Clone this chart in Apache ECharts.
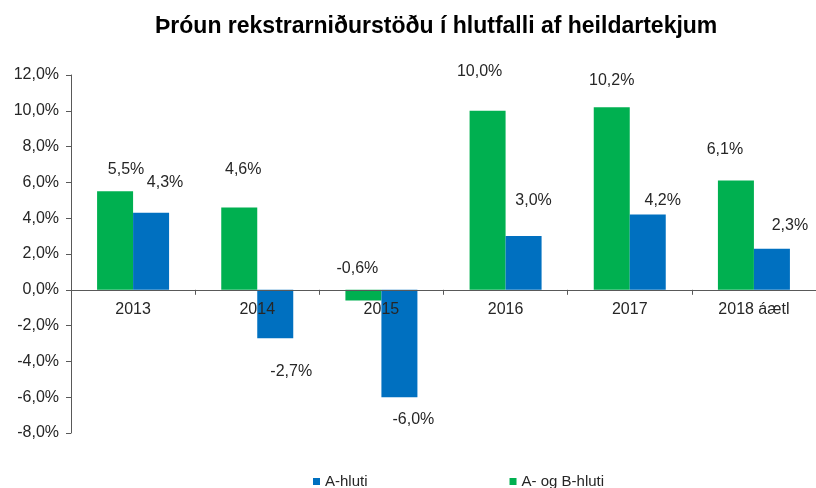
<!DOCTYPE html>
<html>
<head>
<meta charset="utf-8">
<script src="https://cdn.jsdelivr.net/npm/echarts@6/dist/echarts.min.js"></script>
<style>
  html, body { margin: 0; padding: 0; background: #fff; }
  #main { width: 816px; height: 488px; }
</style>
</head>
<body>
<div id="main"></div>
<script>
var years = ['2013', '2014', '2015', '2016', '2017', '2018 áætl'];
var abHluti = [5.5, 4.6, -0.6, 10.0, 10.2, 6.1];   // A- og B-hluti
var aHluti = [4.3, -2.7, -6.0, 3.0, 4.2, 2.3];     // A-hluti
var yMin = -8, yMax = 12;

// label nudges, hand placed like in the original
var abNudge = [[11, -14], [4, -30], [-6, -40], [-8, -31], [0, -19], [-11, -23]];
var aNudge = [[14, -22], [16, 25], [14, 14], [10, -28], [15, -6], [18, -15]];

function pct(v){
    return v.toFixed(1).replace('.', ',') + '%';
}

function withLabels(values, nudges){
    return values.map(function(v, i){
        return { value: v, label: { offset: nudges[i] } };
    });
}

var font = 'Liberation Sans, Arial, sans-serif';
var textColor = '#262626';
var axisColor = '#595959';

var gridTop = 75, gridBottom = 55, chartH = 488;
// the category axis sits on the zero line, labels and ticks with it
var plotH = chartH - gridTop - gridBottom;
var zeroShift = plotH * (0 - yMin) / (yMax - yMin);

var chartDom = document.getElementById('main');
var myChart = echarts.init(chartDom);
var option;

option = {
    animation: false,
    title: {
        text: 'Þróun rekstrarniðurstöðu í hlutfalli af heildartekjum',
        left: 150,
        top: 10,
        textStyle: {
            fontFamily: font,
            fontWeight: 'bold',
            fontSize: 23,
            color: '#000'
        }
    },
    legend: {
        data: ['A-hluti', 'A- og B-hluti'],
        left: 308,
        top: 469,
        itemWidth: 7,
        itemHeight: 7,
        itemGap: 142,
        icon: 'rect',
        textStyle: { fontFamily: font, fontSize: 15, color: textColor }
    },
    grid: {
        left: 71,
        right: -7,
        top: gridTop,
        bottom: gridBottom
    },
    xAxis: {
        type: 'category',
        data: years,
        offset: -zeroShift,
        z: 5,
        axisLine: { onZero: false, lineStyle: { color: axisColor } },
        axisTick: { show: true, length: 5, lineStyle: { color: axisColor, width: 1 } },
        axisLabel: { fontFamily: font, fontSize: 16, color: textColor, margin: 12 }
    },
    yAxis: {
        type: 'value',
        min: yMin,
        max: yMax,
        interval: 2,
        splitLine: { show: false },
        axisLine: { show: true, lineStyle: { color: axisColor } },
        axisTick: { show: true, length: 5, lineStyle: { color: axisColor } },
        axisLabel: {
            fontFamily: font, fontSize: 16, color: textColor, margin: 12,
            formatter: pct
        }
    },
    series: [
        {
            name: 'A- og B-hluti',
            type: 'bar',
            barWidth: 36,
            barGap: '0%',
            itemStyle: { color: '#00B050' },
            label: {
                show: true,
                position: 'outside',
                distance: 0,
                fontFamily: font,
                fontSize: 16,
                color: textColor,
                formatter: function(p){ return pct(p.value); }
            },
            data: withLabels(abHluti, abNudge)
        },
        {
            name: 'A-hluti',
            type: 'bar',
            barWidth: 36,
            barGap: '0%',
            itemStyle: { color: '#0070C0' },
            label: {
                show: true,
                position: 'outside',
                distance: 0,
                fontFamily: font,
                fontSize: 16,
                color: textColor,
                formatter: function(p){ return pct(p.value); }
            },
            data: withLabels(aHluti, aNudge)
        }
    ]
};

option && myChart.setOption(option);
</script>
</body>
</html>
